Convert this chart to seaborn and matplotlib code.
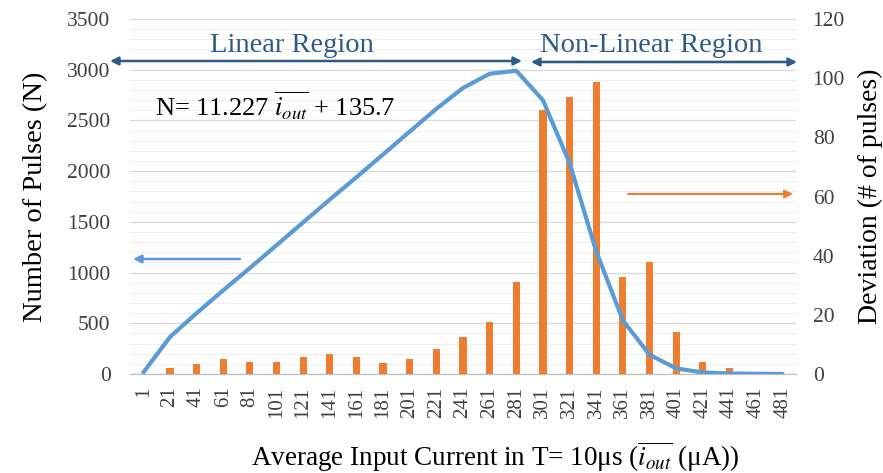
import numpy as np
import pandas as pd
import matplotlib
matplotlib.use("Agg")
import matplotlib.pyplot as plt
import seaborn as sns
from matplotlib.ticker import MultipleLocator

categories = ["1", "21", "41", "61", "81", "101", "121", "141", "161", "181",
              "201", "221", "241", "261", "281", "301", "321", "341", "361",
              "381", "401", "421", "441", "461", "481"]
pulses = [15, 365, 600, 825, 1045, 1270, 1495, 1720, 1940, 2165, 2390, 2615,
          2820, 2960, 2990, 2700, 2080, 1210, 530, 190, 55, 15, 5, 2, 0]
deviation = [0, 2.1, 3.3, 5.2, 4.2, 4.2, 5.7, 6.6, 5.7, 3.7, 5.2, 8.6, 12.6,
             17.7, 31.1, 89.2, 93.8, 98.8, 32.9, 38.0, 14.1, 4.2, 2.1, 0, 0]
left_ticks = [0, 500, 1000, 1500, 2000, 2500, 3000, 3500]
right_ticks = [0, 20, 40, 60, 80, 100, 120]

sns.set_theme(style="white")
plt.rcParams["font.family"] = ["Liberation Serif", "DejaVu Serif"]
plt.rcParams["mathtext.fontset"] = "stix"

df = pd.DataFrame({"current": categories, "pulses": pulses, "deviation": deviation})
xpos = np.arange(len(categories))

fig = plt.figure(figsize=(8.83, 4.73), dpi=100)
rect = [130 / 883, 1 - 374 / 473, 666 / 883, 355 / 473]
ax_l = fig.add_axes(rect)
ax_r = ax_l.twinx()
ax_line = fig.add_axes(rect, sharex=ax_l, sharey=ax_l)

BLUE = "#5b9bd5"
ORANGE = "#ed7d31"
NAVY = "#2e5a87"

# bars on right axis
sns.barplot(data=df, x="current", y="deviation", order=categories, color=ORANGE,
            width=0.27, saturation=1, ax=ax_r, linewidth=0)
# line on left scale
sns.lineplot(x=xpos, y=df["pulses"], color=BLUE, linewidth=3.0, ax=ax_line)

ax_l.set_zorder(0)
ax_r.set_zorder(1)
ax_line.set_zorder(2)
ax_r.patch.set_visible(False)
ax_line.patch.set_visible(False)
ax_line.axis("off")

ax_l.set_xlim(-0.5, len(categories) - 0.5)
ax_l.set_ylim(0, 3500)
ax_r.set_ylim(0, 120)

ax_l.set_yticks(left_ticks)
ax_l.yaxis.set_minor_locator(MultipleLocator(100))
ax_l.grid(which="major", axis="y", color="#d9d9d9", linewidth=0.9)
ax_l.grid(which="minor", axis="y", color="#eeeeee", linewidth=0.7)
ax_l.grid(which="major", axis="x", visible=False)
ax_r.set_yticks(right_ticks)
ax_r.grid(False)

ax_l.set_xticks(xpos)
ax_l.set_xticklabels(categories, rotation=90)
ax_l.set_xticks(np.arange(-0.5, len(categories), 1), minor=True)
ax_l.tick_params(axis="x", which="major", length=0, pad=9, labelsize=15, colors="#404040")
ax_l.tick_params(axis="x", which="minor", length=6, width=0.8, color="#bfbfbf", direction="out")
ax_l.tick_params(axis="y", which="both", length=0, pad=14, labelsize=15.5, colors="#404040")
ax_r.tick_params(axis="y", length=0, pad=12, labelsize=15.5, colors="#404040")
ax_r.set_xlabel("")
ax_r.set_ylabel("")

for a in (ax_l, ax_r):
    for s in ("top", "left", "right"):
        a.spines[s].set_visible(False)
ax_r.spines["bottom"].set_visible(False)
ax_l.spines["bottom"].set_color("#bfbfbf")
ax_l.spines["bottom"].set_linewidth(0.9)

ax_l.set_ylabel("Number of Pulses (N)", fontsize=20.5, labelpad=14, color="black")
ax_r.set_ylabel("Deviation (# of pulses)", fontsize=20, labelpad=9, color="black")
ax_l.set_xlabel(r"Average Input Current in T= 10μs ($\overline{i_{out}}$ (μA))",
                fontsize=19.5, color="black")
ax_l.xaxis.set_label_coords(0.548, -0.185)

# annotations
def fx(px):
    return px / 883

def fy(py):
    return 1 - py / 473

fig.text(fx(292), fy(46), "Linear Region", ha="center", va="center", fontsize=20.5, color=NAVY)
fig.text(fx(651), fy(46), "Non-Linear Region", ha="center", va="center", fontsize=20.5, color=NAVY)
fig.text(fx(155), fy(106), r"N= 11.227 $\overline{i_{out}}$ + 135.7", ha="left", va="center",
         fontsize=19, color="black")

ap = dict(arrowstyle="<|-|>", color=NAVY, lw=1.8, mutation_scale=12, shrinkA=0, shrinkB=0)
ax_l.annotate("", xy=(fx(110), fy(61)), xytext=(fx(522), fy(61)), xycoords="figure fraction",
              textcoords="figure fraction", arrowprops=ap, annotation_clip=False)
ax_l.annotate("", xy=(fx(531), fy(62)), xytext=(fx(797), fy(62)), xycoords="figure fraction",
              textcoords="figure fraction", arrowprops=ap, annotation_clip=False)
ax_line.annotate("", xy=(fx(133), fy(259)), xytext=(fx(240), fy(259)), xycoords="figure fraction",
                 textcoords="figure fraction", annotation_clip=False,
                 arrowprops=dict(arrowstyle="-|>", color=BLUE, lw=1.8, mutation_scale=12,
                                 shrinkA=0, shrinkB=0))
ax_line.annotate("", xy=(fx(793), fy(194)), xytext=(fx(628), fy(194)), xycoords="figure fraction",
                 textcoords="figure fraction", annotation_clip=False,
                 arrowprops=dict(arrowstyle="-|>", color=ORANGE, lw=1.5, mutation_scale=12,
                                 shrinkA=0, shrinkB=0))

fig.savefig("out.png", dpi=100)
